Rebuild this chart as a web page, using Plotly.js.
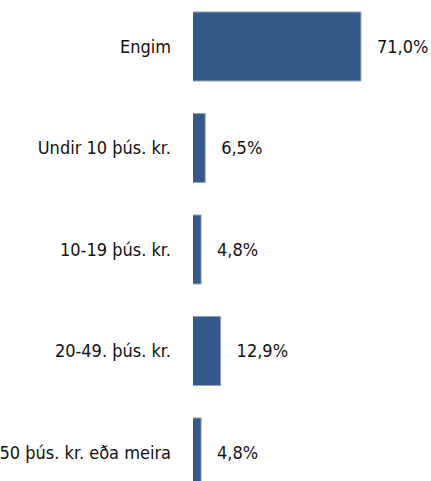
<!DOCTYPE html>
<html>
<head>
<meta charset="utf-8">
<script src="https://cdn.plot.ly/plotly-3.0.1.min.js"></script>
<style>html,body{margin:0;padding:0;background:#fff;}#chart{width:431px;height:481px;}</style>
</head>
<body>
<div id="chart"></div>
<script>
const categories = ["Enginn", "Undir 10 þús. kr.", "10-19 þús. kr.", "20-49. þús. kr.", "50 þús. kr. eða meira"];
const tickLabels = ["Engim", "Undir 10 þús. kr.", "10-19 þús. kr.", "20-49. þús. kr.", "50 þús. kr. eða meira"];
const values = [71.0, 6.5, 4.8, 12.9, 4.8];
const valueLabels = ["71,0%", "6,5%", "4,8%", "12,9%", "4,8%"];

const FONT = '"DejaVu Sans Condensed", "Liberation Sans", Arial, sans-serif';

const trace = {
  type: 'bar',
  orientation: 'h',
  x: values,
  y: categories,
  text: valueLabels.map(s => '\u2009\u2009\u2009\u2009' + s),
  textposition: 'outside',
  textfont: {family: FONT, size: 18, color: '#111'},
  constraintext: 'none',
  cliponaxis: false,
  marker: {color: '#355A89', line: {color: '#8FA3C2', width: 1}},
  hoverinfo: 'none'
};

const layout = {
  width: 431,
  height: 481,
  margin: {l: 193, r: 0, t: 0, b: 0},
  paper_bgcolor: '#fff',
  plot_bgcolor: '#fff',
  showlegend: false,
  bargap: 0.32,
  font: {family: FONT, size: 18, color: '#111'},
  xaxis: {
    range: [1.45, 100],
    showgrid: false, zeroline: false, showline: false,
    showticklabels: false, ticks: ''
  },
  yaxis: {
    type: 'category',
    range: [4.281, -0.458],
    tickvals: categories,
    ticktext: tickLabels,
    showgrid: false, zeroline: false, showline: false,
    ticks: '',
    ticklabelstandoff: 21,
    tickfont: {family: FONT, size: 18, color: '#111'}
  }
};

Plotly.newPlot('chart', [trace], layout, {staticPlot: true, displayModeBar: false});
</script>
</body>
</html>
